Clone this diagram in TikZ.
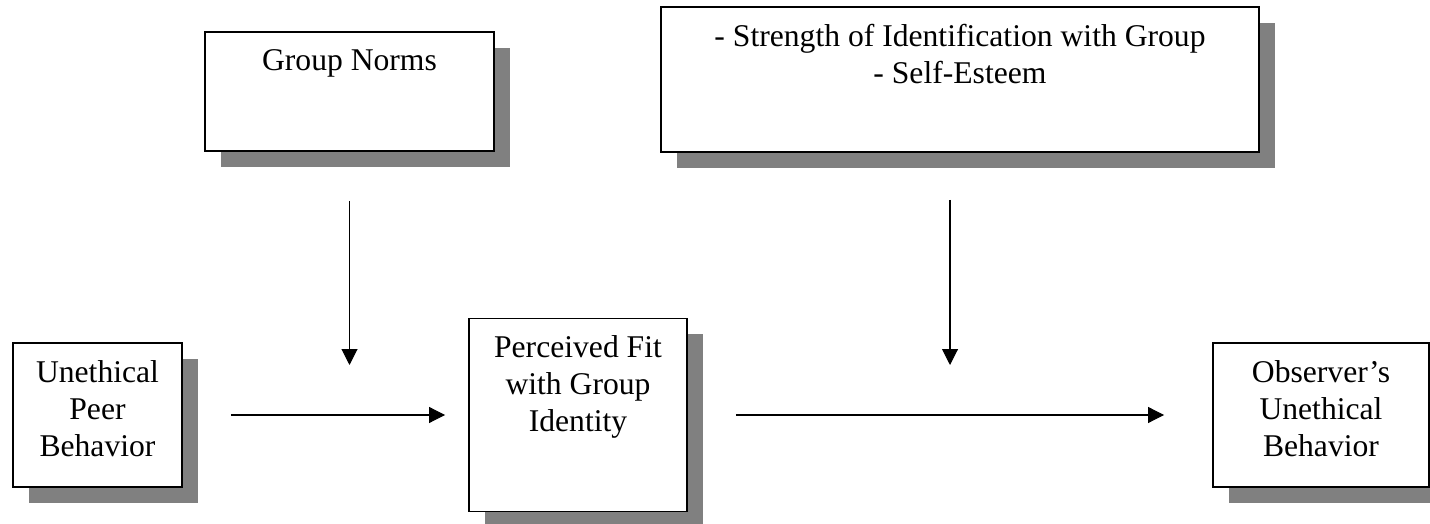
\documentclass[tikz,border=0pt]{standalone}
\usepackage{fontspec}
\setmainfont{Liberation Serif}
\usetikzlibrary{positioning,shadows,arrows.meta}

\begin{document}
\begin{tikzpicture}[
    box/.style={draw=black, line width=1.1pt, fill=white, inner sep=0pt,
        drop shadow={shadow xshift=0.32cm, shadow yshift=-0.32cm, fill=black!50, opacity=1}},
    txt/.style={align=center, inner sep=0pt, font=\fontsize{18}{21}\selectfont},
    arr/.style={-{Triangle[length=9pt, width=9pt]}, line width=0.6pt}
]
    \useasboundingbox (0,0) rectangle (28.6,10.48);

    % Draw nodes
    \node[box, minimum width=5.78cm, minimum height=2.38cm] (norms) at (6.99,8.65) {};
    \node[box, minimum width=11.96cm, minimum height=2.90cm] (moderators) at (19.20,8.89) {};
    \node[box, minimum width=3.38cm, minimum height=2.88cm] (peer) at (1.95,2.18) {};
    \node[box, minimum width=4.36cm, minimum height=3.86cm] (fit) at (11.56,2.18) {};
    \node[box, minimum width=4.32cm, minimum height=2.88cm] (observer) at (26.42,2.18) {};

    % Draw texts
    \node[txt, below=10.3pt of norms.north] (normstxt) {Group Norms};
    \node[txt, below=10.3pt of moderators.north] (moderatorstxt) {- Strength of Identification with Group\\- Self-Esteem};
    \node[txt, below=10.3pt of peer.north] (peertxt) {Unethical\\Peer\\Behavior};
    \node[txt, below=10.3pt of fit.north] (fittxt) {Perceived Fit\\with Group\\Identity};
    \node[txt, below=10.3pt of observer.north] (observertxt) {Observer's\\Unethical\\Behavior};

    % Draw connections
    \coordinate (normsend) at (norms.south |- 0,3.18);
    \coordinate (modstart) at (19.0,6.48);
    \coordinate (modend) at (19.0,3.18);
    \draw[arr, shorten <=0.98cm] (norms.south) -- (normsend);
    \draw[arr] (modstart) -- (modend);
    \draw[arr, shorten <=0.96cm, shorten >=0.46cm] (peer) -- (fit);
    \draw[arr, shorten <=0.96cm, shorten >=0.96cm] (fit) -- (observer);

\end{tikzpicture}
\end{document}
